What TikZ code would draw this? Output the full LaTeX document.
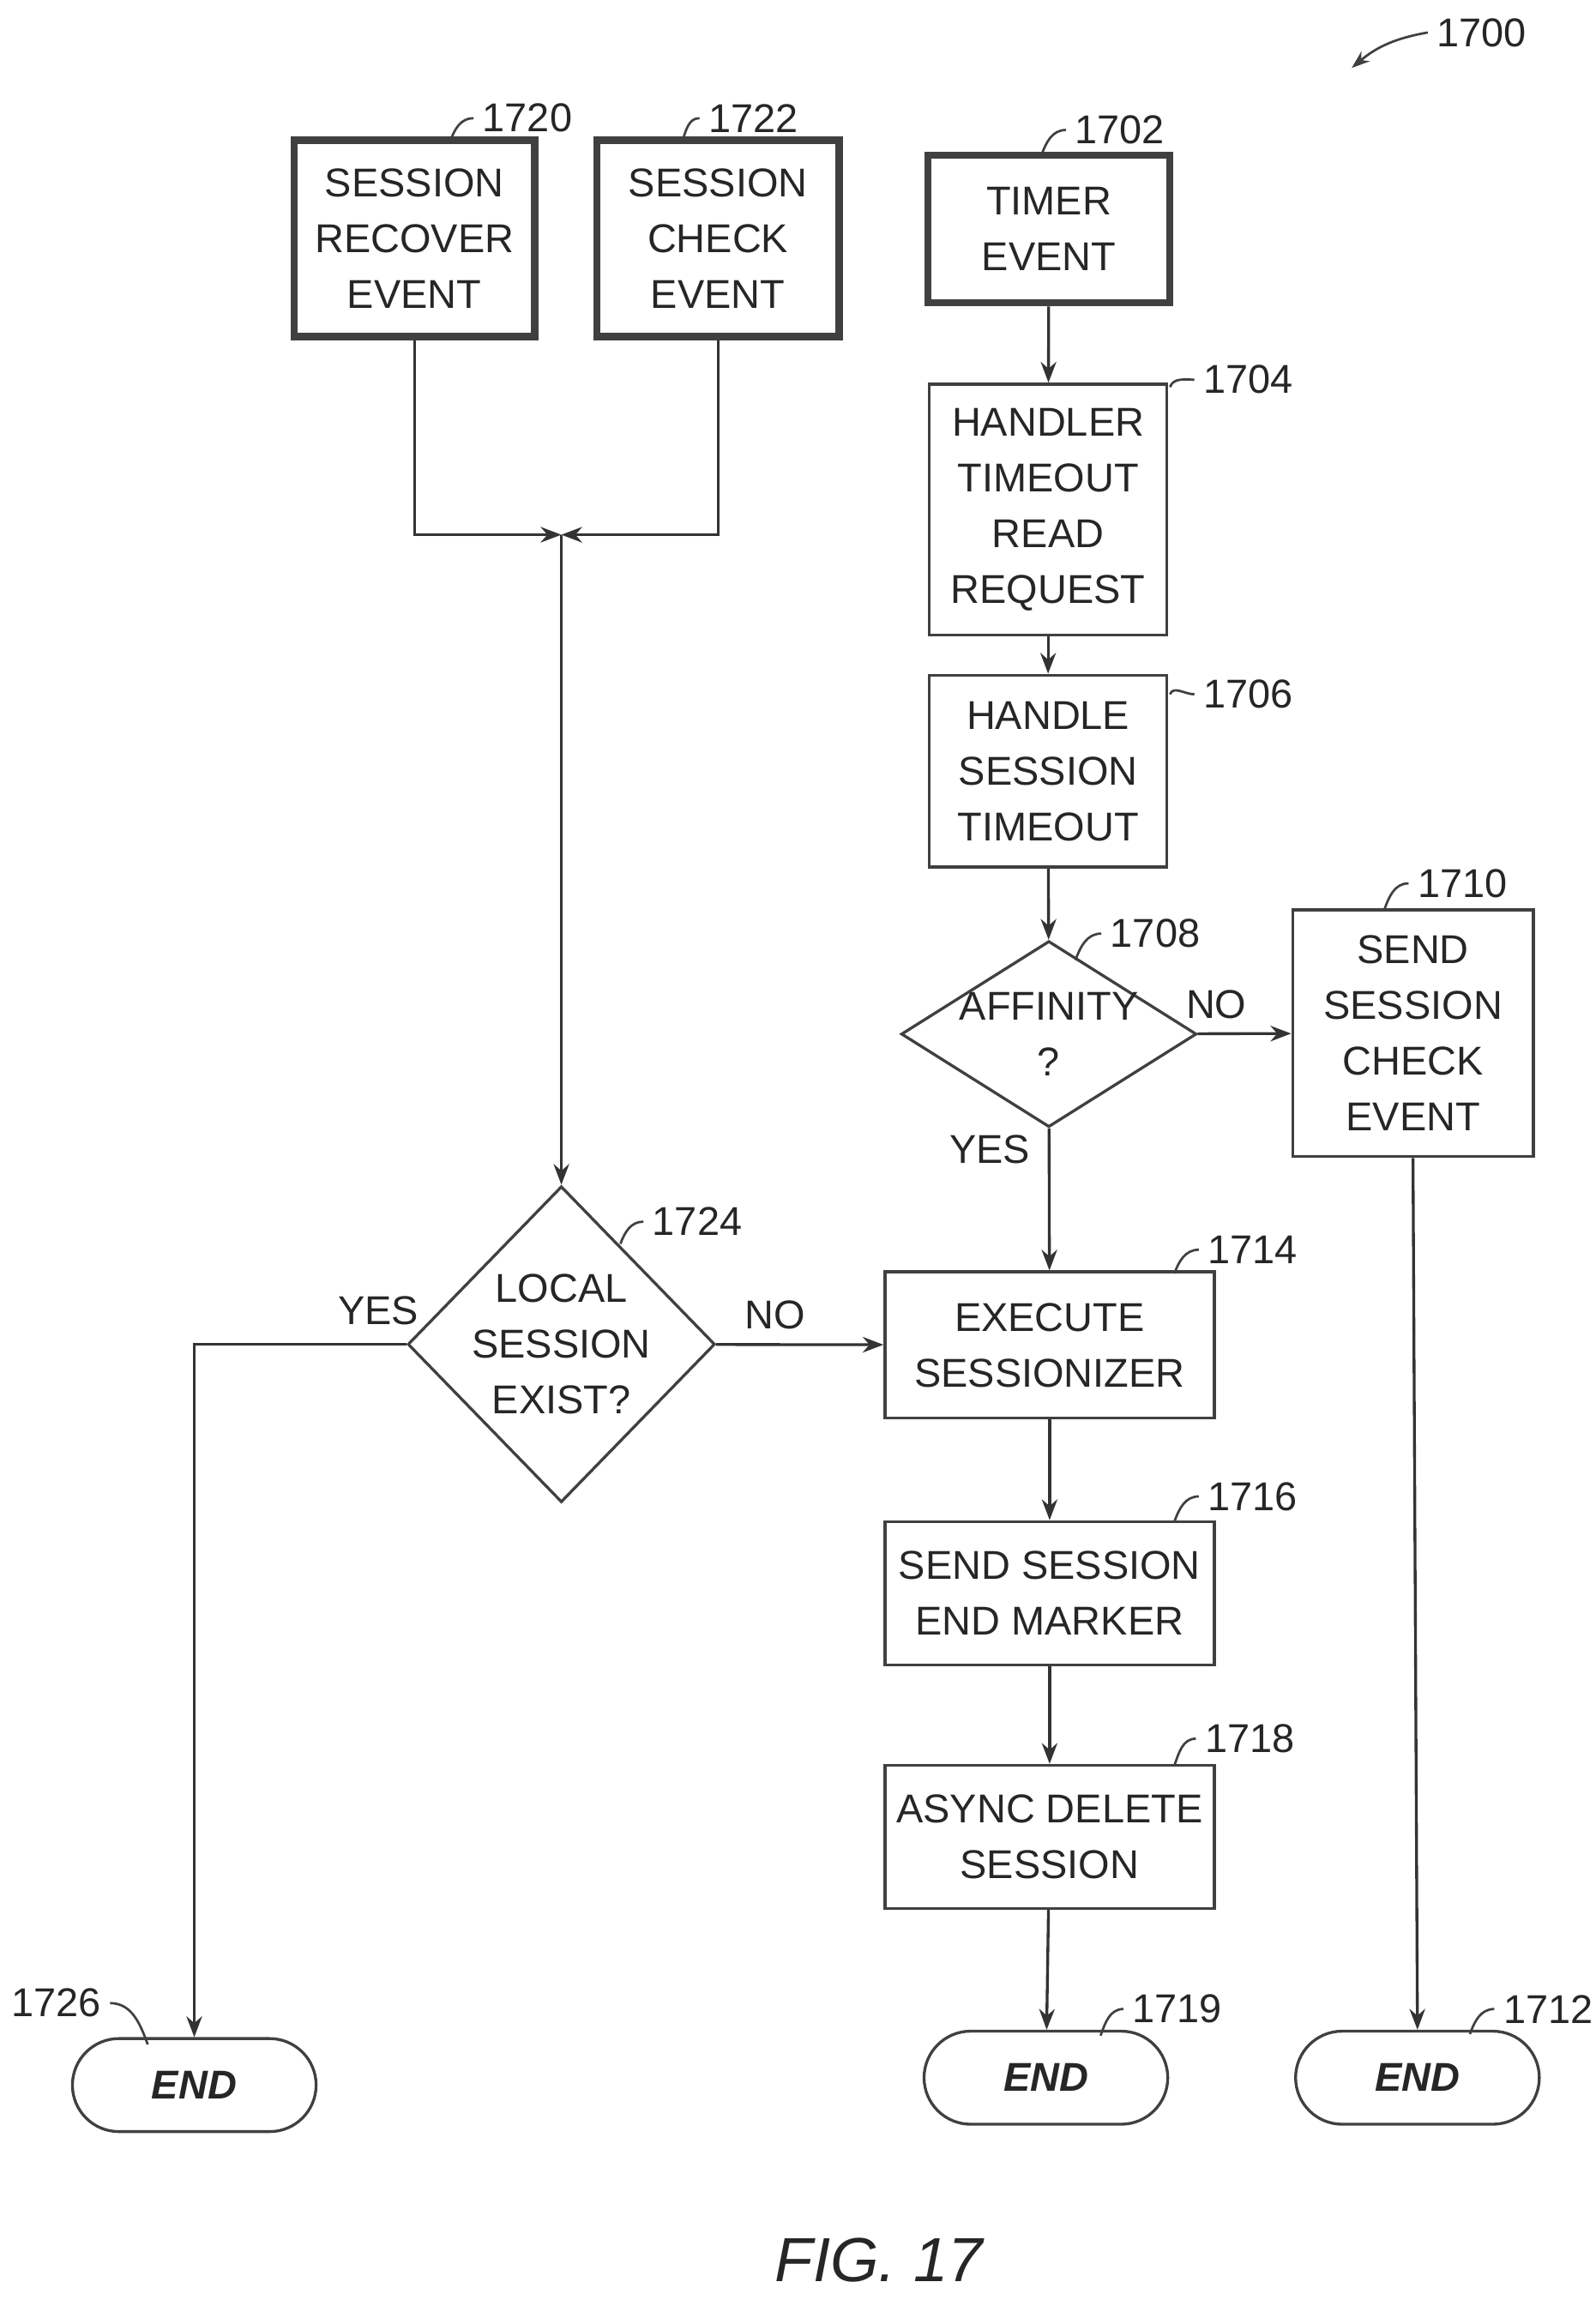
\documentclass[tikz,border=0pt]{standalone}
\usepackage{fontspec}
\setmainfont{Liberation Sans}
\usetikzlibrary{arrows.meta,shapes.geometric}

\begin{document}
\begin{tikzpicture}[x=0.02cm,y=-0.02cm,
    every node/.style={font=\fontsize{15.5}{21.5}\selectfont,text=black!85},
    box/.style={draw=black!75,line width=1.1pt,align=center,inner sep=0pt},
    hbox/.style={box,line width=2.8pt},
    dia/.style={draw=black!75,line width=1.1pt,shape=diamond,inner sep=0pt},
    term/.style={draw=black!75,line width=1.1pt,rounded corners=0.63cm,inner sep=0pt,
      minimum width=3.3cm,minimum height=1.26cm,font=\fontsize{15.5}{20}\selectfont\bfseries\itshape},
    flow/.style={draw=black!80,line width=1.1pt,-{Stealth[length=8pt,width=6pt]}},
    tick/.style={draw=black!75,line width=0.9pt}]
  \useasboundingbox (0,0) rectangle (1080,1557);
  % start events
  \node[hbox,minimum width=3.26cm,minimum height=2.66cm] (s1720) at (280.5,161.5) {SESSION\\RECOVER\\EVENT};
  \node[hbox,minimum width=3.28cm,minimum height=2.66cm] (s1722) at (486,161.5) {SESSION\\CHECK\\EVENT};
  \node[hbox,minimum width=3.28cm,minimum height=2.0cm] (t1702) at (710,155) {TIMER\\EVENT};
  % process steps
  \node[box,minimum width=3.22cm,minimum height=3.4cm] (h1704) at (709.5,345) {HANDLER\\TIMEOUT\\READ\\REQUEST};
  \node[box,minimum width=3.22cm,minimum height=2.6cm] (h1706) at (709.5,522) {HANDLE\\SESSION\\TIMEOUT};
  \node[dia,minimum width=4cm,minimum height=2.52cm] (d1708) at (710,700) {};
  \node[align=center] at (d1708) {AFFINITY\\?};
  \node[box,minimum width=3.26cm,minimum height=3.34cm] (e1710) at (956.5,699.5) {SEND\\SESSION\\CHECK\\EVENT};
  \node[dia,minimum width=4.16cm,minimum height=4.28cm] (d1724) at (380,910) {};
  \node[align=center] at (d1724) {LOCAL\\SESSION\\EXIST?};
  \node[box,minimum width=4.46cm,minimum height=1.98cm] (x1714) at (710.5,910.5) {EXECUTE\\SESSIONIZER};
  \node[box,minimum width=4.46cm,minimum height=1.94cm] (x1716) at (710.5,1078.5) {SEND SESSION\\END MARKER};
  \node[box,minimum width=4.46cm,minimum height=1.94cm] (x1718) at (710.5,1243.5) {ASYNC DELETE\\SESSION};
  % end terminals
  \node[term] (e1726) at (131.5,1411.5) {END};
  \node[term] (e1719) at (708,1406.5) {END};
  \node[term] (e1712) at (959.5,1406.5) {END};
  % connectors
  \coordinate (j) at (380,362);
  \draw[flow] (s1720.south) |- (j);
  \draw[flow] (s1722.south) |- (j);
  \draw[flow] (j) -- (d1724.north);
  \draw[flow] (t1702) -- (h1704);
  \draw[flow] (h1704) -- (h1706);
  \draw[flow] (h1706) -- (d1708);
  \draw[flow] (d1708) -- node[pos=0.2,above,yshift=2pt] {NO} (e1710);
  \draw[flow] (d1708) -- (x1714);
  \node at (670,778) {YES};
  \draw[flow] (e1710.south) -- (e1712.north);
  \draw[flow] (d1724) -- node[pos=0.35,above,yshift=2pt] {NO} (x1714);
  \draw[flow] (d1724.west) -| (e1726.north);
  \node at (256,887) {YES};
  \draw[flow] (x1714) -- (x1716);
  \draw[flow] (x1716) -- (x1718);
  \draw[flow] (x1718) -- (e1719);
  % reference numerals
  \foreach \n/\lx/\ly/\bx/\by in {1720/357/80/305/95, 1722/510/80/462/95, 1702/758/88/705/105,
      1704/845/257/792/262, 1706/845/470/792/470, 1708/782/632/728/650, 1710/990/598/937/616,
      1724/472/827/420/842, 1714/848/846/795/862, 1716/848/1013/795/1030, 1718/846/1177/795/1195,
      1719/797/1360/745/1378, 1712/1048/1360/995/1377}{
    \node (l\n) at (\lx,\ly) {\n};
    \draw[tick] (l\n.west) to[out=180,in=70] (\bx,\by);
  }
  \node (l1726) at (38,1356) {1726};
  \draw[tick] (l1726.east) to[out=0,in=110] (100,1384);
  \node (l1700) at (1003,22) {1700};
  \draw[tick,-{Stealth[length=7pt,width=5pt]}] (l1700.west) to[out=190,in=40] (915,46);
  \node[font=\fontsize{24}{28}\selectfont\itshape] (fig) at (595,1530) {FIG. 17};
\end{tikzpicture}
\end{document}
